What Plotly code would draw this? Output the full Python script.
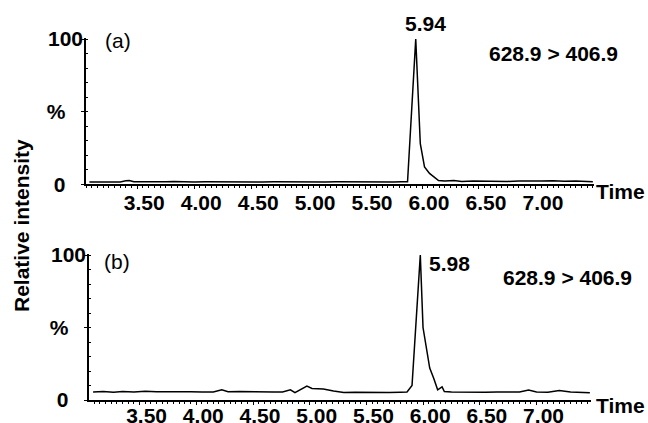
import plotly.graph_objects as go

# ---- data ----
time_a = [3.08, 3.15, 3.25, 3.35, 3.40, 3.43, 3.47, 3.55, 3.65, 3.75, 3.82, 3.90, 4.00, 4.10,
          4.20, 4.30, 4.40, 4.50, 4.60, 4.70, 4.80, 4.90, 5.00, 5.08, 5.15, 5.25, 5.35, 5.45,
          5.55, 5.65, 5.75, 5.82, 5.873, 5.945, 5.985, 6.022, 6.066, 6.145, 6.20, 6.28, 6.35,
          6.45, 6.55, 6.65, 6.75, 6.85, 6.95, 7.05, 7.15, 7.25, 7.35, 7.45, 7.50]
intens_a = [1.6, 1.6, 1.7, 1.6, 2.4, 2.6, 1.7, 1.6, 1.6, 1.7, 1.9, 1.6, 1.6, 1.7,
            1.6, 1.6, 1.7, 1.6, 1.6, 1.7, 1.6, 1.8, 1.6, 1.7, 1.6, 1.7, 1.6, 1.7,
            1.6, 1.7, 1.6, 1.7, 1.8, 100, 28, 12, 7.5, 2.6, 2.2, 2.6, 2.0,
            2.3, 2.1, 2.4, 2.0, 2.2, 2.0, 2.3, 2.5, 2.1, 2.3, 1.8, 1.8]

time_b = [3.09, 3.18, 3.27, 3.35, 3.45, 3.55, 3.65, 3.75, 3.85, 3.95, 4.05, 4.15, 4.225,
          4.28, 4.38, 4.48, 4.58, 4.68, 4.76, 4.83, 4.87, 4.975, 5.02, 5.12, 5.21, 5.30,
          5.40, 5.50, 5.60, 5.70, 5.80, 5.858, 5.902, 5.975, 5.999, 6.058, 6.093, 6.128,
          6.167, 6.187, 6.25, 6.35, 6.45, 6.55, 6.65, 6.75, 6.85, 6.93, 7.00, 7.10, 7.20,
          7.30, 7.40, 7.47]
intens_b = [5.5, 5.8, 5.4, 5.9, 5.6, 6.0, 5.7, 5.8, 5.6, 5.7, 5.5, 5.6, 7.0,
            5.7, 5.9, 5.6, 5.8, 5.5, 5.6, 7.0, 5.0, 9.6, 8.0, 7.6, 6.2, 5.2,
            5.4, 5.2, 5.3, 5.2, 5.4, 5.5, 10, 100, 50, 22, 15, 7,
            9, 5.8, 5.6, 5.4, 5.6, 5.3, 5.6, 5.8, 5.5, 6.8, 5.6, 5.4, 6.5,
            5.5, 5.3, 5.0]

peak_a = "5.94"
peak_b = "5.98"
transition = "628.9 > 406.9"
x_ticks = [3.5, 4.0, 4.5, 5.0, 5.5, 6.0, 6.5, 7.0]
x_ticktext = ["3.50", "4.00", "4.50", "5.00", "5.50", "6.00", "6.50", "7.00"]
y_ticks = [0, 50, 100]
y_ticktext = ["0\u00a0\u00a0\u00a0", "%\u00a0\u00a0\u00a0", "100"]

FONT = "Liberation Sans, Arial, sans-serif"
FS = 21

fig = go.Figure()
fig.add_trace(go.Scatter(x=time_a, y=intens_a, mode="lines",
                         line=dict(color="black", width=1.5), xaxis="x", yaxis="y",
                         showlegend=False, hoverinfo="skip"))
fig.add_trace(go.Scatter(x=time_b, y=intens_b, mode="lines",
                         line=dict(color="black", width=1.5), xaxis="x2", yaxis="y2",
                         showlegend=False, hoverinfo="skip"))

def xaxis_cfg(dom, rng, anchor, standoff):
    return dict(domain=dom, range=rng, anchor=anchor, showgrid=False, zeroline=False,
                automargin=False,
                showline=True, linecolor="black", linewidth=2,
                tickvals=x_ticks, ticktext=x_ticktext, ticks="outside", ticklen=3,
                tickwidth=1, tickcolor="black", ticklabelshift=7, ticklabelstandoff=standoff,
                tickfont=dict(family=FONT, size=FS, color="black", weight="bold"),
                minor=dict(dtick=0.05, tick0=0, ticks="outside", ticklen=2,
                           tickwidth=1, tickcolor="black"))

def yaxis_cfg(dom, rng, anchor):
    return dict(domain=dom, range=rng, anchor=anchor, showgrid=False, zeroline=False,
                automargin=False,
                showline=True, linecolor="black", linewidth=1.5,
                tickvals=y_ticks, ticktext=y_ticktext, ticks="outside", ticklen=3,
                tickwidth=1, tickcolor="black", ticklabelstandoff=-6,
                tickfont=dict(family=FONT, size=FS, color="black", weight="bold"),
                minor=dict(dtick=10, tick0=0, ticks="inside", ticklen=2,
                           tickwidth=1, tickcolor="black"))

fig.update_layout(
    width=648, height=423, autosize=False,
    margin=dict(l=0, r=0, t=0, b=0, pad=0, autoexpand=False),
    paper_bgcolor="white", plot_bgcolor="white",
    xaxis=xaxis_cfg([86/648, 594/648], [3.05, 7.51], "y", -5),
    yaxis=yaxis_cfg([1-184.3/423, 1-38.3/423], [0, 100.5], "x"),
    xaxis2=xaxis_cfg([89/648, 591/648], [3.054, 7.48], "y2", -7),
    yaxis2=yaxis_cfg([1-400/423, 1-254/423], [0, 100.7], "x2"),
)

bold = dict(family=FONT, size=FS, color="black", weight="bold")
norm = dict(family=FONT, size=FS, color="black")
ann = [
    dict(x=5.945, y=100, xref="x", yref="y", text=peak_a, showarrow=False,
         xanchor="center", yanchor="middle", xshift=10, yshift=16, font=bold),
    dict(x=5.975, y=100, xref="x2", yref="y2", text=peak_b, showarrow=False,
         xanchor="center", yanchor="middle", xshift=29, yshift=-8, font=bold),
    dict(x=553.5/648, y=1-53.7/423, xref="paper", yref="paper", text=transition,
         showarrow=False, xanchor="center", yanchor="middle", font=bold),
    dict(x=567.5/648, y=1-277/423, xref="paper", yref="paper", text=transition,
         showarrow=False, xanchor="center", yanchor="middle", font=bold),
    dict(x=117.5/648, y=1-40.5/423, xref="paper", yref="paper", text="(a)",
         showarrow=False, xanchor="center", yanchor="middle", font=norm),
    dict(x=116.7/648, y=1-261/423, xref="paper", yref="paper", text="(b)",
         showarrow=False, xanchor="center", yanchor="middle", font=norm),
    dict(x=620.5/648, y=1-191/423, xref="paper", yref="paper", text="Time",
         showarrow=False, xanchor="center", yanchor="middle", font=bold),
    dict(x=620/648, y=1-405.5/423, xref="paper", yref="paper", text="Time",
         showarrow=False, xanchor="center", yanchor="middle", font=bold),
    dict(x=21/648, y=1-226/423, xref="paper", yref="paper", text="Relative intensity",
         showarrow=False, xanchor="center", yanchor="middle", textangle=-90, font=bold),
]
fig.update_layout(annotations=ann)

fig.write_html("out.html", config={"displayModeBar": False},
               post_script="document.body.style.margin='0';document.body.style.padding='0';")
